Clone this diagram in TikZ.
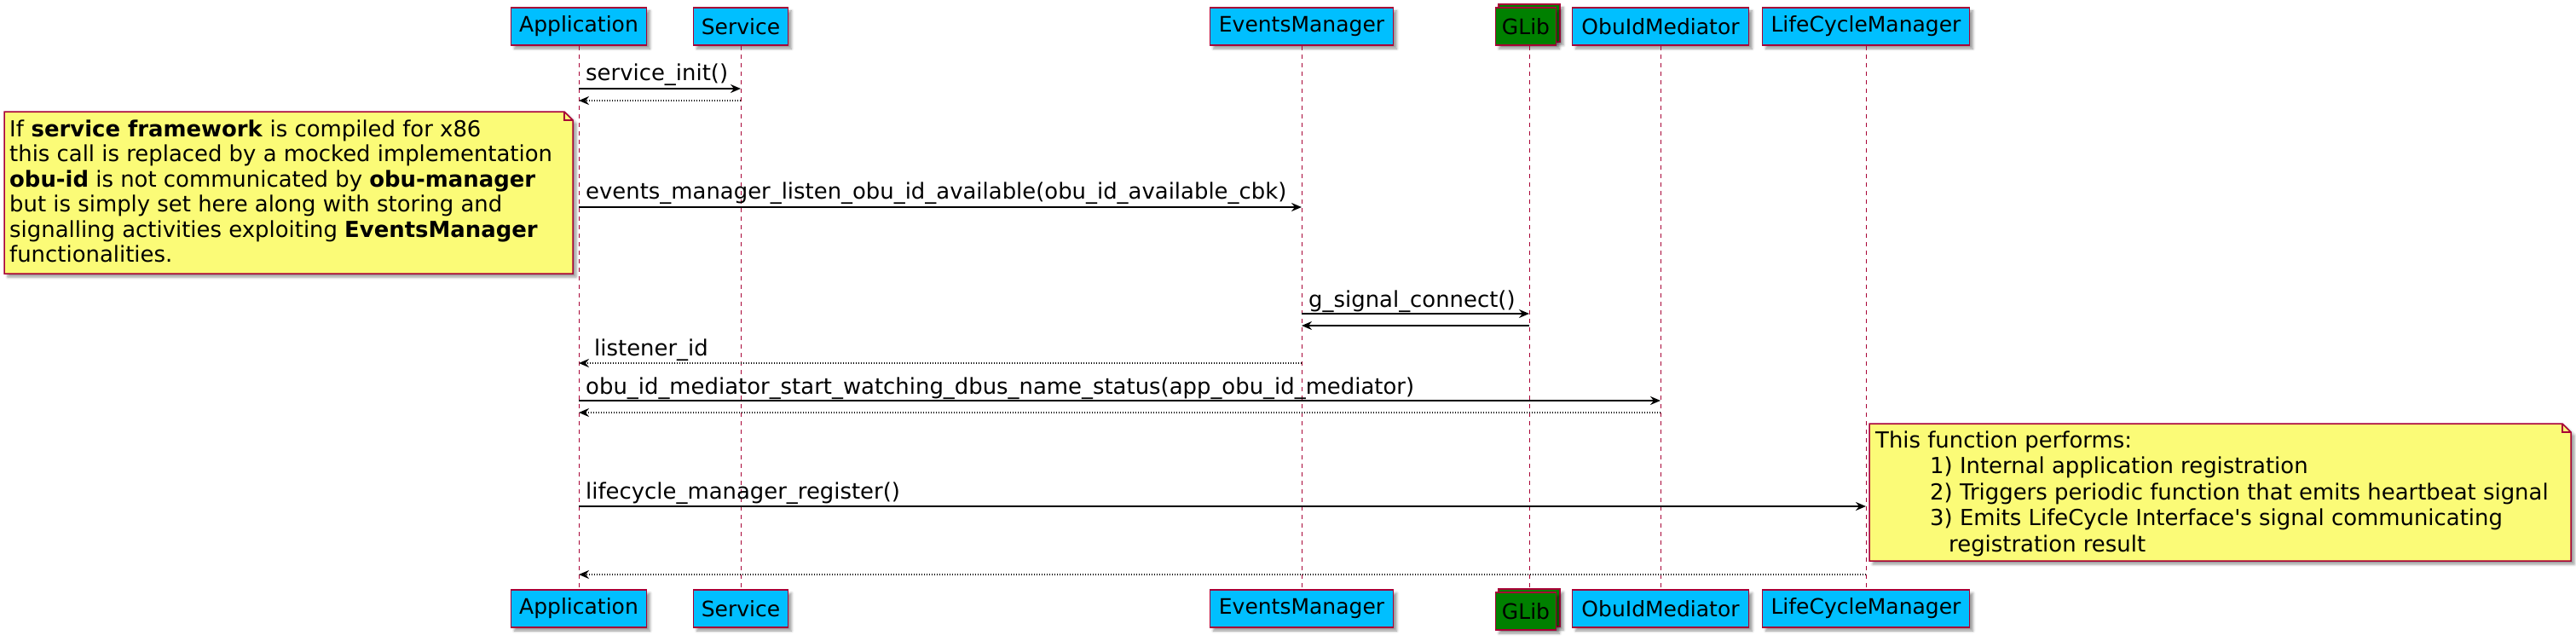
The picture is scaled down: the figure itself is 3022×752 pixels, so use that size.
\documentclass[tikz,border=0pt]{standalone}
\usepackage{fontspec}
\setmainfont{DejaVu Sans}
\usetikzlibrary{arrows.meta,shadows.blur}
\definecolor{pborder}{HTML}{A80036}
\definecolor{pfill}{HTML}{00BFFF}
\definecolor{notefill}{HTML}{FBFB77}
\definecolor{glibfill}{HTML}{008000}
\tikzset{
  shd/.style={blur shadow={shadow xshift=4pt, shadow yshift=-4pt, shadow blur radius=3pt, shadow opacity=40}},
  part/.style={draw=pborder, fill=pfill, line width=1.5pt, minimum height=44pt, inner sep=0pt,
    font=\fontsize{25pt}{30pt}\selectfont, shd},
  glibpart/.style={part, fill=glibfill},
  life/.style={draw=pborder, line width=1pt, dash pattern=on 5pt off 5pt},
  msg/.style={draw=black, line width=2pt, -{Stealth[length=12pt,width=10pt,inset=4pt]}},
  ret/.style={draw=black, line width=2pt, dash pattern=on 1.5pt off 1.5pt, -{Stealth[length=12pt,width=10pt,inset=4pt]}},
  lbl/.style={anchor=base west, inner sep=0pt, font=\fontsize{25.9pt}{30pt}\selectfont},
  note/.style={draw=pborder, fill=notefill, line width=1.5pt, shd},
  notefold/.style={draw=pborder, line width=1.5pt},
}
\begin{document}
\begin{tikzpicture}[x=1pt, y=-1pt]
\useasboundingbox (0,0) rectangle (3022,752);
% participants top
\node[part, minimum width=159pt] (appT) at (679,31) {Application};
\node[part, minimum width=111pt] (servT) at (869,31) {Service};
\node[part, minimum width=215pt] (evT) at (1527,31) {EventsManager};
\node[glibpart, minimum width=72pt] (glibT) at (1794,27) {};
\node[glibpart, minimum width=71pt] (glibTf) at (1790,31) {GLib};
\node[part, minimum width=207pt] (obuT) at (1948,31) {ObuIdMediator};
\node[part, minimum width=243pt] (lcmT) at (2189,31) {LifeCycleManager};
% participants bottom
\node[part, minimum width=159pt] (appB) at (679,714) {Application};
\node[part, minimum width=111pt] (servB) at (869,714) {Service};
\node[part, minimum width=215pt] (evB) at (1527,714) {EventsManager};
\node[glibpart, minimum width=72pt] (glibB) at (1794,713) {};
\node[glibpart, minimum width=71pt] (glibBf) at (1790,717) {GLib};
\node[part, minimum width=207pt] (obuB) at (1948,714) {ObuIdMediator};
\node[part, minimum width=243pt] (lcmB) at (2189,714) {LifeCycleManager};
% lifelines
\draw[life] (appT.south) -- (appB.north);
\draw[life] (servT.south) -- (servB.north);
\draw[life] (evT.south) -- (evB.north);
\draw[life] (glibT |- glibTf.south) -- (glibB.north);
\draw[life] (obuT.south) -- (obuB.north);
\draw[life] (lcmT.south) -- (lcmB.north);
% messages
\draw[msg] (appT |- 0,104) -- (servT |- 0,104);
\node[lbl] (m1) at (687,95) {service\_init()};
\draw[ret] (servT |- 0,118) -- (appT |- 0,118);
\draw[msg] (appT |- 0,243) -- (evT |- 0,243);
\node[lbl] (m3) at (687,233) {events\_manager\_listen\_obu\_id\_available(obu\_id\_available\_cbk)};
\draw[msg] (evT |- 0,368) -- (glibT |- 0,368);
\node[lbl] (m4) at (1535,360) {g\_signal\_connect()};
\draw[msg] (glibT |- 0,382) -- (evT |- 0,382);
\draw[ret] (evT |- 0,426) -- (appT |- 0,426);
\node[lbl] (m6) at (697,417) {listener\_id};
\draw[msg] (appT |- 0,470) -- (obuT |- 0,470);
\node[lbl] (m7) at (687,462) {obu\_id\_mediator\_start\_watching\_dbus\_name\_status(app\_obu\_id\_mediator)};
\draw[ret] (obuT |- 0,484) -- (appT |- 0,484);
\draw[msg] (appT |- 0,594) -- (lcmT |- 0,594);
\node[lbl] (m9) at (687,585) {lifecycle\_manager\_register()};
\draw[ret] (lcmT |- 0,674) -- (appT |- 0,674);
% note 1
\path[note] (5,131) -- (662,131) -- (672,141) -- (672,321) -- (5,321) -- cycle;
\draw[notefold] (662,131) -- (662,141) -- (672,141);
\node[lbl] (n1a) at (11,160) {If \textbf{service framework} is compiled for x86};
\node[lbl] (n1b) at (11,189.5) {this call is replaced by a mocked implementation};
\node[lbl] (n1c) at (11,219) {\textbf{obu-id} is not communicated by \textbf{obu-manager}};
\node[lbl] (n1d) at (11,248.5) {but is simply set here along with storing and};
\node[lbl] (n1e) at (11,278) {signalling activities exploiting \textbf{EventsManager}};
\node[lbl] (n1f) at (11,307.5) {functionalities.};
% note 2
\path[note] (2193,497) -- (3006,497) -- (3016,507) -- (3016,658) -- (2193,658) -- cycle;
\draw[notefold] (3006,497) -- (3006,507) -- (3016,507);
\node[lbl] (n2a) at (2200,525) {This function performs:};
\node[lbl] (n2b) at (2264,555.5) {1) Internal application registration};
\node[lbl] (n2c) at (2264,586) {2) Triggers periodic function that emits heartbeat signal};
\node[lbl] (n2d) at (2264,616.5) {3) Emits LifeCycle Interface\textquotesingle s signal communicating};
\node[lbl] (n2e) at (2286,647) {registration result};
\end{tikzpicture}
\end{document}
